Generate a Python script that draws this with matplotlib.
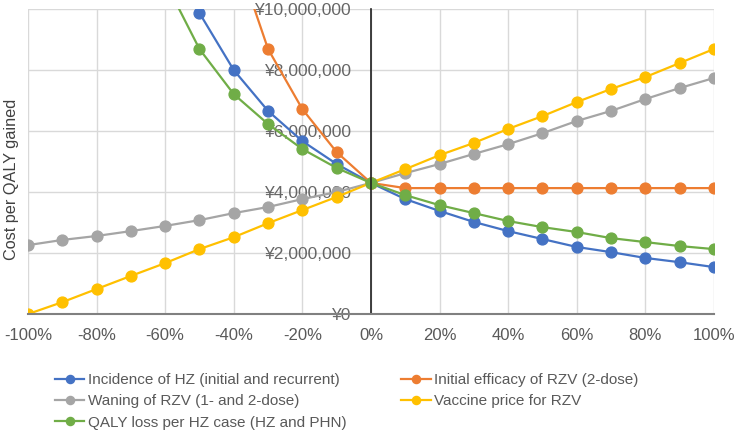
import matplotlib.pyplot as plt
from matplotlib.ticker import FuncFormatter
import numpy as np

# ---- data (x = % change in parameter) ----
pct = [-100, -90, -80, -70, -60, -50, -40, -30, -20, -10, 0,
       10, 20, 30, 40, 50, 60, 70, 80, 90, 100]

# values in yen, None = not plotted
incidence = [None, None, None, None, 12600000, 9870000, 8000000, 6660000, 5670000, 4920000, 4300000,
             3770000, 3380000, 3020000, 2720000, 2460000, 2200000, 2030000, 1840000, 1700000, 1540000]
efficacy = [None, None, None, None, None, None, 12000000, 8690000, 6720000, 5310000, 4300000,
            4130000, 4130000, 4130000, 4130000, 4130000, 4130000, 4130000, 4130000, 4130000, 4130000]
waning = [2260000, 2430000, 2560000, 2720000, 2890000, 3080000, 3310000, 3510000, 3770000, 4000000, 4300000,
          4620000, 4920000, 5250000, 5570000, 5930000, 6330000, 6660000, 7050000, 7410000, 7740000]
price = [0, 390000, 820000, 1250000, 1670000, 2130000, 2520000, 2980000, 3410000, 3840000, 4300000,
         4750000, 5210000, 5610000, 6070000, 6490000, 6950000, 7380000, 7770000, 8230000, 8690000]
qaly = [None, None, None, None, 10900000, 8690000, 7210000, 6230000, 5410000, 4790000, 4300000,
        3900000, 3570000, 3310000, 3050000, 2850000, 2690000, 2490000, 2360000, 2230000, 2130000]

series = [incidence, efficacy, waning, price, qaly]
labels = ["Incidence of HZ (initial and recurrent)",
          "Initial efficacy of RZV (2-dose)",
          "Waning of RZV (1- and 2-dose)",
          "Vaccine price for RZV",
          "QALY loss per HZ case (HZ and PHN)"]
colours = ["#4472C4", "#ED7D31", "#A5A5A5", "#FFC000", "#70AD47"]

plt.rcParams['font.family'] = ['Liberation Sans', 'DejaVu Sans']

fig = plt.figure(figsize=(7.36, 4.32), dpi=100)
ax = fig.add_axes([0.038, 0.273, 0.932, 0.706])

x = np.array(pct) / 100.0
handles = []
for vals, lab, col in zip(series, labels, colours):
    y = np.array([np.nan if v is None else v for v in vals], dtype=float)
    h, = ax.plot(x, y, color=col, lw=1.6, marker='o', markersize=7.8, label=lab)
    handles.append(h)

ax.set_xlim(-1, 1)
ax.set_ylim(0, 10000000)
ax.set_xticks(np.arange(-1, 1.01, 0.2))
ax.set_yticks(np.arange(0, 10000001, 2000000))
ax.xaxis.set_major_formatter(FuncFormatter(lambda v, p: "{}%".format(int(round(v * 100)))))
ax.yaxis.set_major_formatter(FuncFormatter(lambda v, p: "¥{:,.0f}".format(v)))

ax.grid(True, color="#d9d9d9", lw=1)
for s in ['top', 'right']:
    ax.spines[s].set_visible(False)
ax.spines['left'].set_position(('data', 0))
ax.spines['left'].set_color('#202020')
ax.spines['left'].set_linewidth(1.2)
ax.spines['bottom'].set_color('#808080')
ax.spines['bottom'].set_linewidth(1.5)

ax.tick_params(axis='y', length=0, pad=14, labelsize=12.6, labelcolor='#666666')
ax.tick_params(axis='x', length=0, pad=10, labelsize=12, labelcolor='#595959')

fig.text(0.015, 0.585, "Cost per QALY gained", rotation=90, ha='center', va='center',
         fontsize=11.7, color='#404040')

# row-wise order like the original legend
order = [0, 2, 4, 1, 3]
fig.legend([handles[i] for i in order], [labels[i] for i in order],
           loc='upper left', bbox_to_anchor=(55 / 736, 1 - 373 / 432), ncol=2, frameon=False,
           fontsize=11, labelcolor='#595959', handlelength=1.9, handletextpad=0.25,
           columnspacing=3.6, labelspacing=0.48, markerscale=0.75,
           borderpad=0, borderaxespad=0)

fig.savefig("out.png", dpi=100)
